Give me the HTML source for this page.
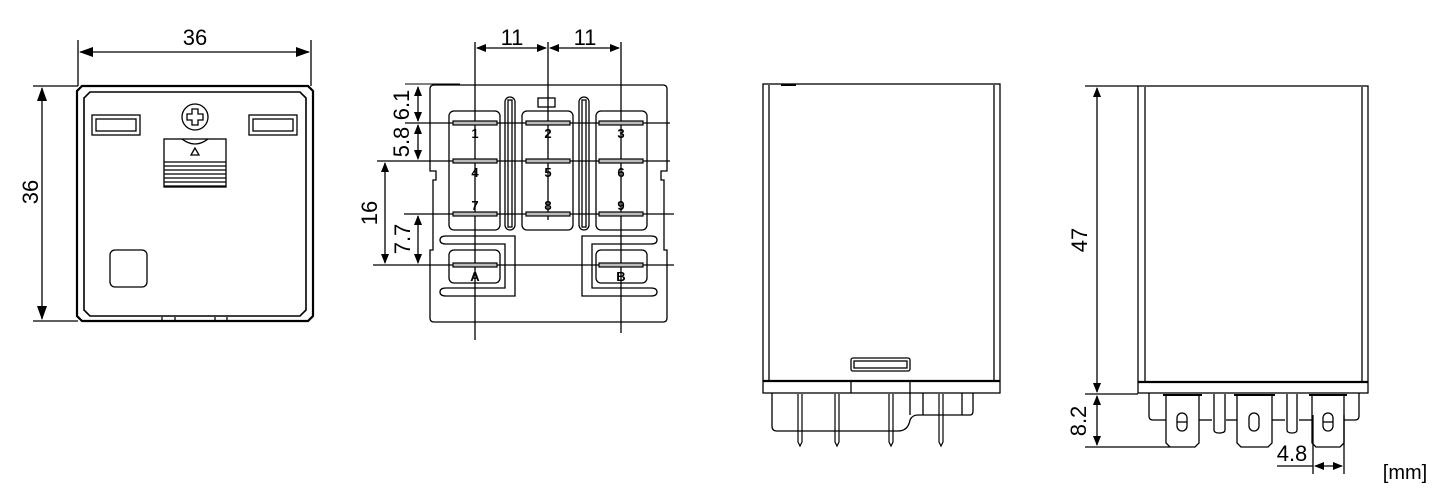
<!DOCTYPE html>
<html><head><meta charset="utf-8"><style>
html,body{margin:0;padding:0;background:#fff;}
svg{display:block;}
text{font-family:"Liberation Sans",sans-serif;fill:#000;}
</style></head><body>
<svg width="1437" height="502" viewBox="0 0 1437 502" xmlns="http://www.w3.org/2000/svg">
<defs>
<marker id="a" markerWidth="14" markerHeight="10" refX="13" refY="5" orient="auto-start-reverse" markerUnits="userSpaceOnUse"><path d="M0,0 L14,5 L0,10 Z" fill="#000"/></marker>
<marker id="b" markerWidth="10" markerHeight="8" refX="9" refY="4" orient="auto-start-reverse" markerUnits="userSpaceOnUse"><path d="M0,0 L10,4 L0,8 Z" fill="#000"/></marker>
</defs>
<g fill="none" stroke="#000" stroke-width="1.3">
<!-- VIEW 1 -->
<line x1="78" y1="40" x2="78" y2="86"/><line x1="311" y1="40" x2="311" y2="86"/>
<line x1="80" y1="52" x2="309" y2="52" marker-start="url(#a)" marker-end="url(#a)"/>
<line x1="33" y1="86" x2="78" y2="86"/><line x1="33" y1="321" x2="78" y2="321"/>
<line x1="42" y1="88" x2="42" y2="319" marker-start="url(#a)" marker-end="url(#a)"/>
<path d="M82,86 H308 L313,91 V316 L308,321 H82 L77,316 V91 Z" stroke-width="2.2"/>
<path d="M90,92 H300 L306,98 V310 L300,316 H90 L84,310 V98 Z" stroke-width="1.6"/>
<line x1="162" y1="321" x2="162" y2="317"/><line x1="175" y1="321" x2="175" y2="317"/><line x1="215" y1="321" x2="215" y2="317"/><line x1="227" y1="321" x2="227" y2="317"/>
<rect x="92" y="115" width="48" height="20"/><rect x="96" y="119" width="40" height="12"/>
<rect x="249" y="115" width="48" height="20"/><rect x="253" y="119" width="40" height="12"/>
<circle cx="195" cy="117" r="13"/>
<path d="M192,109 h6 v5 h5 v6 h-5 v5 h-6 v-5 h-5 v-6 h5 z"/>
<rect x="164" y="139" width="62" height="48"/>
<path d="M182,139 q13,10 26,0"/>
<path d="M195,148 l-4,7 h8 z"/>
<g stroke-width="1.2"><line x1="164" y1="162" x2="226" y2="162"/><line x1="164" y1="166" x2="226" y2="166"/><line x1="164" y1="170" x2="226" y2="170"/><line x1="164" y1="174" x2="226" y2="174"/><line x1="164" y1="178" x2="226" y2="178"/><line x1="164" y1="182" x2="226" y2="182"/><line x1="164" y1="186" x2="226" y2="186"/></g>
<rect x="110" y="250" width="37" height="37" rx="5"/>

<!-- VIEW 2 -->
<path d="M434,85 H663 Q667,85 667,89 V171 H661 V180 H664 V250 H667 V318 Q667,322 663,322 H434 Q430,322 430,318 V250 H433 V180 H436 V171 H430 V89 Q430,85 434,85 Z"/>
<line x1="475" y1="42" x2="475" y2="340"/><line x1="548" y1="42" x2="548" y2="220"/><line x1="621" y1="42" x2="621" y2="333"/>
<line x1="477" y1="48" x2="546" y2="48" marker-start="url(#b)" marker-end="url(#b)"/>
<line x1="550" y1="48" x2="619" y2="48" marker-start="url(#b)" marker-end="url(#b)"/>
<line x1="405" y1="84" x2="460" y2="84" stroke-width="1"/>
<line x1="405" y1="123" x2="670" y2="123"/><line x1="377" y1="161" x2="670" y2="161"/>
<line x1="404" y1="214" x2="674" y2="214"/><line x1="373" y1="265" x2="674" y2="265"/>
<line x1="418" y1="87" x2="418" y2="121" marker-start="url(#b)" marker-end="url(#b)"/>
<line x1="418" y1="125" x2="418" y2="159" marker-start="url(#b)" marker-end="url(#b)"/>
<line x1="385" y1="163" x2="385" y2="263" marker-start="url(#b)" marker-end="url(#b)"/>
<line x1="418" y1="216" x2="418" y2="263" marker-start="url(#b)" marker-end="url(#b)"/>
<rect x="449" y="111" width="51" height="119" rx="5"/>
<rect x="522" y="111" width="51" height="119" rx="5"/>
<rect x="596" y="111" width="51" height="119" rx="5"/>
<rect x="505" y="97" width="10" height="133" rx="5"/><rect x="508" y="100" width="4" height="127"/>
<rect x="579" y="97" width="10" height="133" rx="5"/><rect x="582" y="100" width="4" height="127"/>
<rect x="538" y="98" width="17" height="9"/>
<g fill="#bbb" stroke-width="1.2">
<rect x="453" y="121" width="44" height="4"/><rect x="526" y="121" width="44" height="4"/><rect x="599" y="121" width="44" height="4"/>
<rect x="453" y="159" width="44" height="4"/><rect x="526" y="159" width="44" height="4"/><rect x="599" y="159" width="44" height="4"/>
<rect x="453" y="212" width="44" height="4"/><rect x="526" y="212" width="44" height="4"/><rect x="599" y="212" width="44" height="4"/>
<rect x="453" y="263" width="44" height="4"/><rect x="599" y="263" width="44" height="4"/>
</g>
<path d="M446,236 H515 V296 H446 Q440,296 440,292 Q440,288 446,288 H505 V244 H446 Q440,244 440,240 Q440,236 446,236 Z"/>
<path d="M651,236 H582 V296 H651 Q657,296 657,292 Q657,288 651,288 H592 V244 H651 Q657,244 657,240 Q657,236 651,236 Z"/>
<rect x="449" y="250" width="51" height="33" rx="5"/>
<rect x="596" y="250" width="51" height="33" rx="5"/>

<!-- VIEW 3 -->
<rect x="763" y="84" width="237" height="309"/>
<line x1="769" y1="85" x2="769" y2="380"/><line x1="994" y1="85" x2="994" y2="380"/>
<line x1="763" y1="381" x2="1000" y2="381" stroke-width="2.2"/>
<line x1="851" y1="381" x2="851" y2="393"/><line x1="910" y1="381" x2="910" y2="393"/>
<rect x="851" y="358" width="59" height="13" rx="2"/><rect x="854" y="361" width="53" height="7"/>
<line x1="781" y1="85" x2="796" y2="85" stroke-width="2"/>
<path d="M772,393 V426 Q772,431 777,431 H898 Q908,431 910,420 Q912,415 918,415 H970 Q973,415 973,411 V393"/>
<line x1="910" y1="393" x2="910" y2="415"/><line x1="923" y1="393" x2="923" y2="415"/><line x1="962" y1="393" x2="962" y2="415"/>
<g stroke-width="1.2">
<path d="M798,394 V442 L800,446 L802,442 V394"/><path d="M835,394 V442 L837,446 L839,442 V394"/>
<path d="M889,394 V442 L891,446 L893,442 V394"/><path d="M939,394 V442 L941,446 L943,442 V394"/>
</g>

<!-- VIEW 4 -->
<rect x="1138" y="86" width="230" height="307"/>
<line x1="1145" y1="87" x2="1145" y2="383"/><line x1="1362" y1="87" x2="1362" y2="383"/>
<line x1="1138" y1="382" x2="1368" y2="382" stroke-width="2.2"/>
<line x1="1085" y1="86" x2="1138" y2="86"/>
<line x1="1085" y1="394" x2="1138" y2="394"/>
<line x1="1085" y1="447" x2="1170" y2="447"/>
<line x1="1097" y1="88" x2="1097" y2="392" marker-start="url(#b)" marker-end="url(#b)"/>
<line x1="1097" y1="396" x2="1097" y2="445" marker-start="url(#b)" marker-end="url(#b)"/>
<path d="M1149,393 V416 Q1149,420 1153,420 H1166"/><path d="M1199,420 H1212"/>
<path d="M1272,420 H1285"/><path d="M1344,420 H1355 Q1359,420 1359,416 V393"/>
<path d="M1226,420 H1237"/><path d="M1299,420 H1312"/>
<path d="M1166,395 V443 L1170,447 H1195 L1199,443 V395"/>
<path d="M1237,395 V443 L1241,447 H1268 L1272,443 V395"/>
<path d="M1312,395 V443 L1316,447 H1340 L1344,443 V395"/>
<line x1="1163" y1="395" x2="1202" y2="395" stroke-width="2"/><line x1="1234" y1="395" x2="1275" y2="395" stroke-width="2"/><line x1="1309" y1="395" x2="1347" y2="395" stroke-width="2"/>
<path d="M1214,394 V430 Q1214,433 1219,433 Q1225,433 1225,430 V394"/>
<path d="M1287,394 V430 Q1287,433 1292,433 Q1297,433 1297,430 V394"/>
<rect x="1177" y="413" width="10" height="18" rx="5"/><line x1="1177" y1="422" x2="1187" y2="422"/>
<rect x="1249" y="413" width="10" height="18" rx="5"/>
<rect x="1323" y="413" width="10" height="18" rx="5"/><line x1="1323" y1="422" x2="1333" y2="422"/>
<line x1="1313" y1="415" x2="1313" y2="474"/><line x1="1344" y1="415" x2="1344" y2="474"/>
<line x1="1277" y1="466" x2="1313" y2="466"/>
<line x1="1315" y1="466" x2="1342" y2="466" marker-start="url(#b)" marker-end="url(#b)"/>
</g>
<g font-size="22">
<text x="195" y="45" text-anchor="middle">36</text>
<text transform="translate(38,192) rotate(-90)" text-anchor="middle">36</text>
<text x="512" y="45" text-anchor="middle">11</text>
<text x="585" y="45" text-anchor="middle">11</text>
<text transform="translate(409,105) rotate(-90)" text-anchor="middle">6.1</text>
<text transform="translate(409,142) rotate(-90)" text-anchor="middle">5.8</text>
<text transform="translate(377,213) rotate(-90)" text-anchor="middle">16</text>
<text transform="translate(410,239) rotate(-90)" text-anchor="middle">7.7</text>
<text transform="translate(1087,240) rotate(-90)" text-anchor="middle">47</text>
<text transform="translate(1086,421) rotate(-90)" text-anchor="middle">8.2</text>
<text x="1292" y="461" text-anchor="middle">4.8</text>
</g>
<text x="1405" y="479" font-size="20" text-anchor="middle">[mm]</text>
<g font-size="13" font-weight="bold" text-anchor="middle">
<text x="475" y="138">1</text><text x="548" y="138">2</text><text x="621" y="138">3</text>
<text x="475" y="177">4</text><text x="548" y="177">5</text><text x="621" y="177">6</text>
<text x="475" y="210">7</text><text x="548" y="210">8</text><text x="621" y="210">9</text>
<text x="475" y="281">A</text><text x="621" y="281">B</text>
</g>
</svg>
</body></html>
